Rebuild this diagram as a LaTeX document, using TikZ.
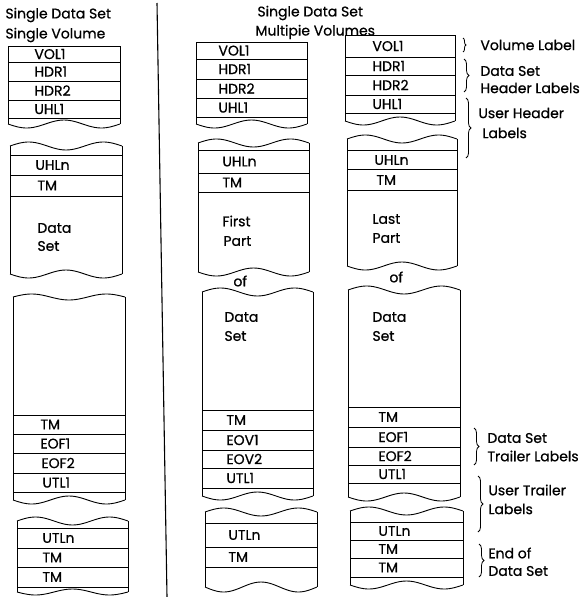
\documentclass[tikz,border=0pt]{standalone}
\usepackage{fontspec}
\setmainfont{Poppins}[FakeBold=0.7]
\usetikzlibrary{decorations.pathreplacing}
% torn edge of a tape strip: left x, right x, base y, swing
\newcommand{\wavy}[4]{%
  \draw plot[domain=0:1, samples=41, smooth, variable=\t] ({#1+(#2-#1)*\t},{#3+#4*sin(540*\t)});}

\begin{document}
\begin{tikzpicture}[x=1pt, y=-1pt, line width=0.9pt, font=\fontsize{14}{16}\selectfont,
    lbl/.style={anchor=west, inner sep=0pt},
    brc/.style={decorate, decoration={brace, amplitude=5pt}, line width=0.8pt}]
  \useasboundingbox (0,0) rectangle (586,597);

  % ---- single data set, single volume
  \node[lbl] (sa) at (5,15) {Single Data Set};
  \node[lbl] (sb) at (5,35) {Single Volume};
  \draw (8,124) -- (8,46) -- (120,46) -- (120,124);
  \draw (8,62) -- (120,62) (8,81) -- (120,81) (8,100) -- (120,100) (8,118) -- (120,118);
  \wavy{8}{120}{124}{4}
  \node[lbl] (avol) at (34,54) {VOL1};
  \node[lbl] (ahdra) at (34,71.5) {HDR1};
  \node[lbl] (ahdrb) at (34,90.5) {HDR2};
  \node[lbl] (auhla) at (34,109) {UHL1};

  \wavy{10}{122}{146}{-4}
  \draw (10,146) -- (10,274) (122,146) -- (122,274);
  \draw (10,155) -- (122,155) (10,175) -- (122,175) (10,196) -- (122,196);
  \wavy{10}{122}{274}{4}
  \node[lbl] (auhln) at (35,165) {UHLn};
  \node[lbl] (atma) at (37,185.5) {TM};
  \node[lbl] (adata) at (37,228) {Data};
  \node[lbl] (aset) at (37,246) {Set};

  \wavy{13}{125}{297}{-3}
  \draw (13,297) -- (13,500) (125,297) -- (125,500);
  \draw (13,415) -- (125,415) (13,434) -- (125,434) (13,453) -- (125,453)
        (13,473) -- (125,473) (13,492) -- (125,492);
  \wavy{13}{125}{500}{4}
  \node[lbl] (atmb) at (40,424.5) {TM};
  \node[lbl] (aeofa) at (40,443.5) {EOF1};
  \node[lbl] (aeofb) at (41,463) {EOF2};
  \node[lbl] (autla) at (42,482.5) {UTL1};

  \wavy{17}{128}{521}{-4}
  \draw (17,521) -- (17,592) (128,521) -- (128,592);
  \draw (17,528) -- (128,528) (17,548) -- (128,548) (17,567) -- (128,567) (17,587) -- (128,587);
  \wavy{17}{128}{592}{3}
  \node[lbl] (autln) at (42,538) {UTLn};
  \node[lbl] (atmc) at (42,557.5) {TM};
  \node[lbl] (atmd) at (42,577) {TM};

  % divider
  \draw[line width=1.1pt] (157,3) -- (167,597);

  % ---- single data set, multiple volumes: first volume
  \node[lbl] (ma) at (257,13) {Single Data Set};
  \node[lbl] (mb) at (255,32) {Multipie Volumes};
  \draw (196,124) -- (196,42) -- (307,42) -- (307,124);
  \draw (196,59) -- (307,59) (196,79) -- (307,79) (196,98) -- (307,98) (196,117) -- (307,117);
  \wavy{196}{307}{124}{4}
  \node[lbl] (bvol) at (218,50.5) {VOL1};
  \node[lbl] (bhdra) at (218,69) {HDR1};
  \node[lbl] (bhdrb) at (218,88.5) {HDR2};
  \node[lbl] (buhla) at (218,107.5) {UHL1};

  \wavy{198}{309}{143}{-4}
  \draw (198,143) -- (198,272) (309,143) -- (309,272);
  \draw (198,150) -- (309,150) (198,173) -- (309,173) (198,192) -- (309,192);
  \wavy{198}{309}{272}{4}
  \node[lbl] (buhln) at (222,161.5) {UHLn};
  \node[lbl] (btma) at (222,182.5) {TM};
  \node[lbl] (bfirst) at (222,221) {First};
  \node[lbl] (bpart) at (223,241) {Part};
  \node[lbl] (bof) at (233,281) {of};

  \wavy{202}{313}{292}{-4}
  \draw (202,292) -- (202,496) (313,292) -- (313,496);
  \draw (202,410) -- (313,410) (202,430) -- (313,430) (202,450) -- (313,450)
        (202,468) -- (313,468) (202,488) -- (313,488);
  \wavy{202}{313}{496}{4}
  \node[lbl] (bdata) at (224,317) {Data};
  \node[lbl] (bset) at (224,336) {Set};
  \node[lbl] (btmb) at (226,420) {TM};
  \node[lbl] (beova) at (226,440) {EOV1};
  \node[lbl] (beovb) at (226,459) {EOV2};
  \node[lbl] (butla) at (226,478) {UTL1};

  \wavy{205}{317}{512}{-4}
  \draw (205,512) -- (205,587) (317,512) -- (317,587);
  \draw (205,523) -- (317,523) (205,547) -- (317,547) (205,567) -- (317,567);
  \wavy{205}{317}{587}{5}
  \node[lbl] (butln) at (228,535) {UTLn};
  \node[lbl] (btmc) at (228,557) {TM};

  % ---- last volume
  \draw (345,121) -- (345,35) -- (455,35) -- (455,121);
  \draw (345,57) -- (455,57) (345,75) -- (455,75) (345,95) -- (455,95) (345,113) -- (455,113);
  \wavy{345}{455}{121}{4}
  \node[lbl] (cvol) at (372,46) {VOL1};
  \node[lbl] (chdra) at (372,66) {HDR1};
  \node[lbl] (chdrb) at (372,85) {HDR2};
  \node[lbl] (cuhla) at (372,104) {UHL1};

  \wavy{347}{457}{139}{-4}
  \draw (347,139) -- (347,266) (457,139) -- (457,266);
  \draw (347,150) -- (457,150) (347,169) -- (457,169) (347,190) -- (457,190);
  \wavy{347}{457}{266}{4}
  \node[lbl] (cuhln) at (374,160) {UHLn};
  \node[lbl] (ctma) at (376,180) {TM};
  \node[lbl] (clast) at (372,219) {Last};
  \node[lbl] (cpart) at (372,238) {Part};
  \node[lbl] (cof) at (389,277) {of};

  \wavy{348}{460}{290}{-4}
  \draw (348,290) -- (348,497) (460,290) -- (460,497);
  \draw (348,407) -- (460,407) (348,427) -- (460,427) (348,447) -- (460,447)
        (348,465) -- (460,465) (348,483) -- (460,483);
  \wavy{348}{460}{497}{4}
  \node[lbl] (cdata) at (372,317) {Data};
  \node[lbl] (cset) at (372,336) {Set};
  \node[lbl] (ctmb) at (378,417) {TM};
  \node[lbl] (ceofa) at (378,437) {EOF1};
  \node[lbl] (ceofb) at (378,456) {EOF2};
  \node[lbl] (cutla) at (378,474) {UTL1};

  \wavy{350}{463}{511}{-4}
  \draw (350,511) -- (350,585) (463,511) -- (463,585);
  \draw (350,522) -- (463,522) (350,540) -- (463,540) (350,558) -- (463,558) (350,577) -- (463,577);
  \wavy{350}{463}{585}{4}
  \node[lbl] (cutln) at (378,531) {UTLn};
  \node[lbl] (ctmc) at (378,549) {TM};
  \node[lbl] (ctmd) at (378,567.5) {TM};

  % ---- braces and what they mark
  \draw[brc, decoration={amplitude=3pt}] (463,38) -- (463,52);
  \node[lbl] (kvol) at (480,45) {Volume Label};
  \draw[brc] (464,59) -- (464,92);
  \node[lbl] (khdra) at (480,71) {Data Set};
  \node[lbl] (khdrb) at (480,88) {Header Labels};
  \draw[brc] (466,98) -- (466,158);
  \node[lbl] (kuhla) at (478,113) {User Header};
  \node[lbl] (kuhlb) at (482,133) {Labels};
  \draw[brc] (474,428) -- (474,465);
  \node[lbl] (keofa) at (487,438) {Data Set};
  \node[lbl] (keofb) at (487,456) {Trailer Labels};
  \draw[brc] (478,476) -- (478,532);
  \node[lbl] (kutla) at (488,490) {User Trailer};
  \node[lbl] (kutlb) at (488,509) {Labels};
  \draw[brc] (479,544) -- (479,577);
  \node[lbl] (kenda) at (488,553) {End of};
  \node[lbl] (kendb) at (488,571) {Data Set};
\end{tikzpicture}
\end{document}
